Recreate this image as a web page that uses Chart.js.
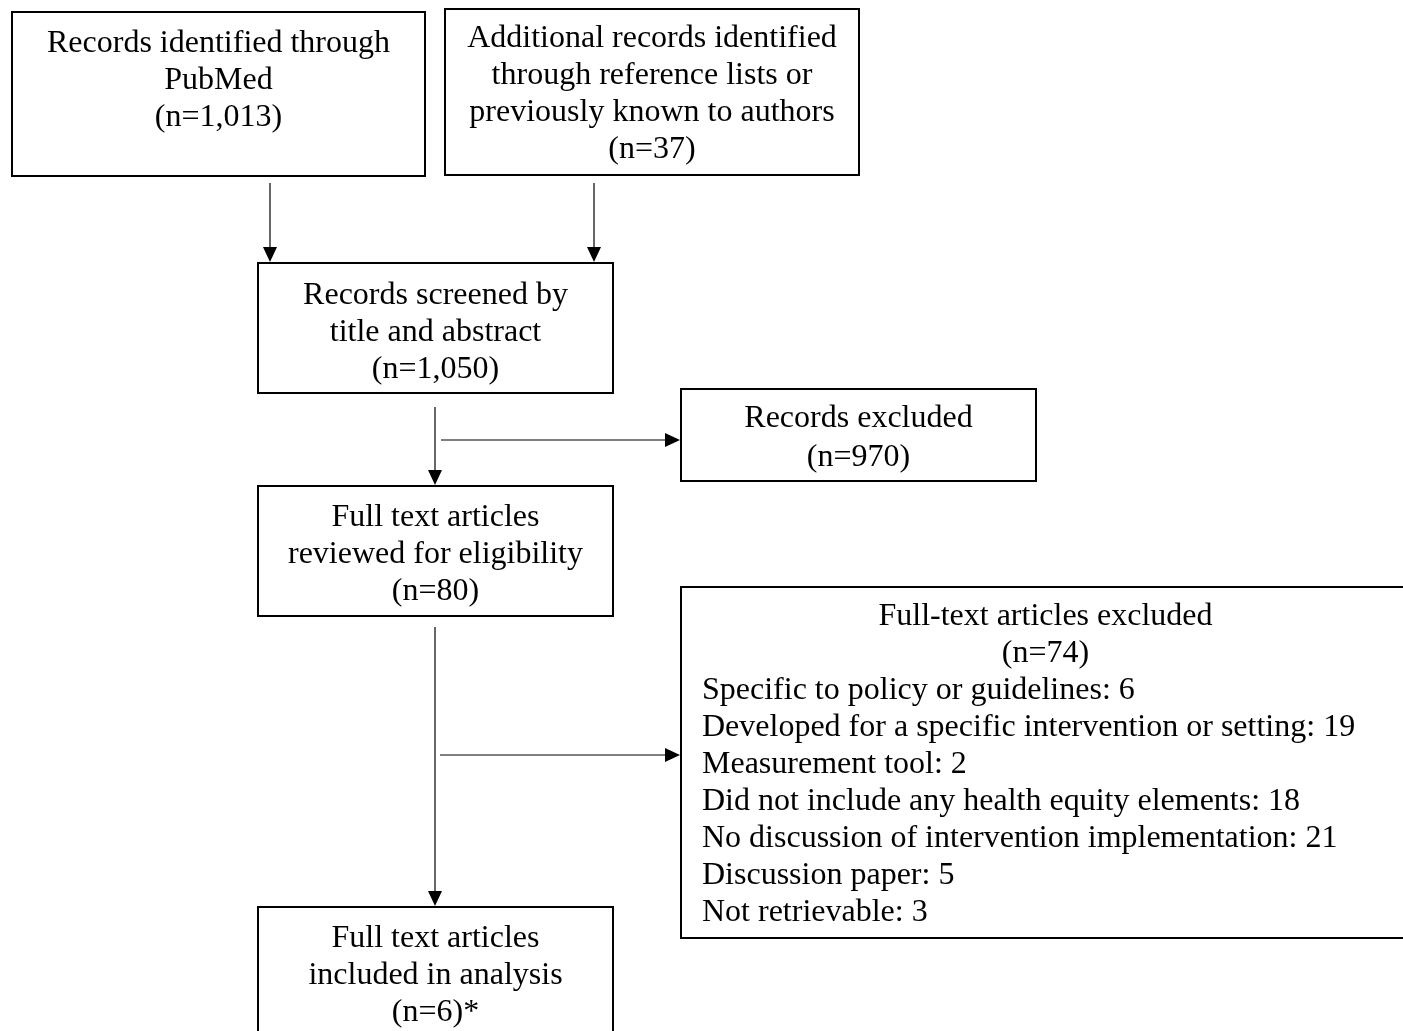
<!DOCTYPE html>
<html>
<head>
<meta charset="utf-8">
<script src="https://cdn.jsdelivr.net/npm/chart.js@4/dist/chart.umd.min.js"></script>
<style>
  html, body { margin: 0; padding: 0; background: #fff; }
  #wrap { width: 1403px; height: 1031px; }
</style>
</head>
<body>
<div id="wrap"><canvas id="flow"></canvas></div>
<script>
// flow stages (text + counts)
const stageTitles = [
  ["Records identified through", "PubMed"],
  ["Additional records identified", "through reference lists or", "previously known to authors"],
  ["Records screened by", "title and abstract"],
  ["Records excluded"],
  ["Full text articles", "reviewed for eligibility"],
  ["Full-text articles excluded"],
  ["Full text articles", "included in analysis"]
];
const stageCounts = [1013, 37, 1050, 970, 80, 74, 6];
const stageSuffix = ["", "", "", "", "", "", "*"];

const exclusionReasons = [
  "Specific to policy or guidelines",
  "Developed for a specific intervention or setting",
  "Measurement tool",
  "Did not include any health equity elements",
  "No discussion of intervention implementation",
  "Discussion paper",
  "Not retrievable"
];
const exclusionCounts = [6, 19, 2, 18, 21, 5, 3];

// layout, in page units (x 0..1403, y 0..1031 downwards)
const boxLayout = [
  { x0: 12,  x1: 425,  y0: 12,  y1: 176, ty: 44 },
  { x0: 445, x1: 859,  y0: 9,   y1: 175, ty: 39 },
  { x0: 258, x1: 613,  y0: 263, y1: 393, ty: 296 },
  { x0: 681, x1: 1036, y0: 389, y1: 481, ty: 419, lh: 39 },
  { x0: 258, x1: 613,  y0: 486, y1: 616, ty: 518 },
  { x0: 681, x1: 1410, y0: 587, y1: 938, ty: 617, listX: 702 },
  { x0: 258, x1: 613,  y0: 907, y1: 1045, ty: 939 }
];
const arrowLayout = [
  [270, 183, 270, 262],
  [594, 183, 594, 262],
  [435, 407, 435, 485],
  [441, 440, 680, 440],
  [435, 627, 435, 906],
  [440, 755, 680, 755]
];
const lineHeight = 36.9;
const fontSpec = '32px "Liberation Serif", "Times New Roman", serif';

function boxLines(i) {
  return stageTitles[i].concat(["(n=" + stageCounts[i].toLocaleString("en-US") + ")" + stageSuffix[i]]);
}

const flowPlugin = {
  id: "flow",
  beforeDraw(chart) {
    const ctx = chart.ctx;
    ctx.save();
    ctx.fillStyle = "#fff";
    ctx.fillRect(0, 0, chart.width, chart.height);
    ctx.restore();
  },
  afterDraw(chart) {
    const ctx = chart.ctx;
    const px = v => chart.scales.x.getPixelForValue(v);
    const py = v => chart.scales.y.getPixelForValue(v);
    ctx.save();
    ctx.strokeStyle = "#000";
    ctx.fillStyle = "#000";

    // boxes
    ctx.lineWidth = 2;
    boxLayout.forEach(b => {
      ctx.strokeRect(px(b.x0), py(b.y0), px(b.x1) - px(b.x0), py(b.y1) - py(b.y0));
    });

    // arrows
    ctx.lineWidth = 1.2;
    arrowLayout.forEach(a => {
      const x0 = px(a[0]), y0 = py(a[1]), x1 = px(a[2]), y1 = py(a[3]);
      const ang = Math.atan2(y1 - y0, x1 - x0);
      const len = 15, half = 7;
      const bx = x1 - len * Math.cos(ang), by = y1 - len * Math.sin(ang);
      ctx.beginPath();
      ctx.moveTo(x0, y0);
      ctx.lineTo(bx, by);
      ctx.stroke();
      ctx.beginPath();
      ctx.moveTo(x1, y1);
      ctx.lineTo(bx + half * Math.sin(ang), by - half * Math.cos(ang));
      ctx.lineTo(bx - half * Math.sin(ang), by + half * Math.cos(ang));
      ctx.closePath();
      ctx.fill();
    });

    // text
    ctx.font = fontSpec;
    ctx.textBaseline = "middle";
    boxLayout.forEach((b, i) => {
      const lh = b.lh || lineHeight;
      const cx = px((b.x0 + b.x1) / 2);
      ctx.textAlign = "center";
      boxLines(i).forEach((t, k) => {
        ctx.fillText(t, cx, py(b.ty + k * lh));
      });
      if (b.listX !== undefined) {
        ctx.textAlign = "left";
        const start = b.ty + boxLines(i).length * lh;
        exclusionReasons.forEach((r, k) => {
          ctx.fillText(r + ": " + exclusionCounts[k], px(b.listX), py(start + k * lh));
        });
      }
    });
    ctx.restore();
  }
};

new Chart(document.getElementById("flow"), {
  type: "scatter",
  data: { datasets: [] },
  options: {
    responsive: true,
    maintainAspectRatio: false,
    animation: false,
    layout: { padding: 0 },
    plugins: { legend: { display: false }, tooltip: { enabled: false } },
    scales: {
      x: { type: "linear", min: 0, max: 1403, display: false },
      y: { type: "linear", min: 0, max: 1031, reverse: true, display: false }
    }
  },
  plugins: [flowPlugin]
});
</script>
</body>
</html>
